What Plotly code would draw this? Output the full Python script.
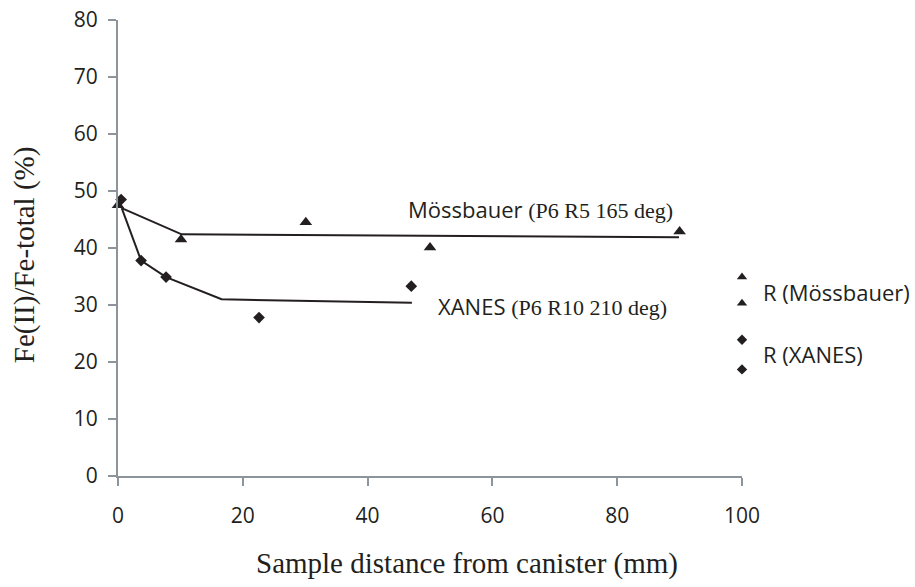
import plotly.graph_objects as go

# Measured points
moss_x = [0.0, 10.1, 30.1, 50.0, 90.0]
moss_y = [47.5, 41.5, 44.5, 40.1, 42.9]
xanes_x = [0.5, 3.7, 7.7, 22.6, 47.0]
xanes_y = [48.5, 37.8, 34.9, 27.8, 33.3]

# Trend lines
moss_line_x = [0.6, 10.2, 89.9]
moss_line_y = [47.0, 42.4, 41.9]
xanes_line_x = [0.6, 3.7, 7.7, 16.6, 47.1]
xanes_line_y = [47.0, 37.8, 34.9, 31.0, 30.4]

# Reference samples (R) at x = 100
r_moss_x = [100, 100]
r_moss_y = [34.9, 30.3]
r_xanes_x = [100, 100]
r_xanes_y = [23.9, 18.7]

x_ticks = [0, 20, 40, 60, 80, 100]
y_ticks = [0, 10, 20, 30, 40, 50, 60, 70, 80]

SANS = "Open Sans"
SERIF = "Liberation Serif"
INK = "#231f20"
AXIS = "#8d949b"

fig = go.Figure()
fig.add_trace(go.Scatter(x=moss_line_x, y=moss_line_y, mode="lines",
                         line=dict(color=INK, width=2), cliponaxis=False))
fig.add_trace(go.Scatter(x=xanes_line_x, y=xanes_line_y, mode="lines",
                         line=dict(color=INK, width=2), cliponaxis=False))
fig.add_trace(go.Scatter(x=moss_x, y=moss_y, mode="markers",
                         marker=dict(symbol="triangle-up", size=11, color=INK),
                         cliponaxis=False))
fig.add_trace(go.Scatter(x=xanes_x, y=xanes_y, mode="markers",
                         marker=dict(symbol="diamond", size=9, color=INK),
                         cliponaxis=False))
fig.add_trace(go.Scatter(x=r_moss_x, y=r_moss_y, mode="markers",
                         marker=dict(symbol="triangle-up", size=9, color=INK),
                         cliponaxis=False))
fig.add_trace(go.Scatter(x=r_xanes_x, y=r_xanes_y, mode="markers",
                         marker=dict(symbol="diamond", size=8, color=INK),
                         cliponaxis=False))

def label(x, y, sans_txt, serif_txt="", ref="data"):
    txt = sans_txt
    if serif_txt:
        txt += " <span style='font-family:%s;font-size:22px'>%s</span>" % (SERIF, serif_txt)
    xr, yr = ("x", "y") if ref == "data" else ("paper", "paper")
    fig.add_annotation(x=x, y=y, xref=xr, yref=yr, text=txt, showarrow=False,
                       xanchor="left", yanchor="middle",
                       font=dict(family=SANS, size=22, color=INK))

label(46.2, 46.9, "Mössbauer", "(P6 R5 165 deg)")
label(51.0, 29.9, "XANES", "(P6 R10 210 deg)")
label(1.030, 0.4035, "R (Mössbauer)", ref="paper")
label(1.030, 0.2675, "R (XANES)", ref="paper")

# Axis titles
fig.add_annotation(x=-0.150, y=0.485, xref="paper", yref="paper",
                   text="Fe(II)/Fe-total (%)", showarrow=False, textangle=-90,
                   xanchor="center", yanchor="middle",
                   font=dict(family=SERIF, size=29, color=INK))
fig.add_annotation(x=0.559, y=-0.191, xref="paper", yref="paper",
                   text="Sample distance from canister (mm)", showarrow=False,
                   xanchor="center", yanchor="middle",
                   font=dict(family=SERIF, size=29, color=INK))

fig.update_layout(
    width=915, height=587,
    margin=dict(l=118, r=173, t=20, b=111, autoexpand=False),
    paper_bgcolor="white", plot_bgcolor="white",
    showlegend=False,
)
fig.update_xaxes(range=[0, 100], tickvals=x_ticks, showgrid=False, zeroline=False,
                 showline=True, linecolor=AXIS, linewidth=2, automargin=False,
                 ticks="outside", ticklen=8, tickwidth=2, tickcolor=AXIS,
                 ticklabelstandoff=12, ticklabeloverflow="allow",
                 tickfont=dict(family=SANS, size=21, color=INK))
fig.update_yaxes(range=[0, 80], tickvals=y_ticks, showgrid=False, zeroline=False,
                 showline=True, linecolor=AXIS, linewidth=2, automargin=False,
                 ticks="outside", ticklen=8, tickwidth=2, tickcolor=AXIS,
                 ticklabelstandoff=6, ticklabeloverflow="allow",
                 tickfont=dict(family=SANS, size=21, color=INK))

# Remove the page's default 8px body margin so the figure sits at the corner
fig.write_html("out.html", config={"displayModeBar": False},
               post_script="document.body.style.margin='0px';")
